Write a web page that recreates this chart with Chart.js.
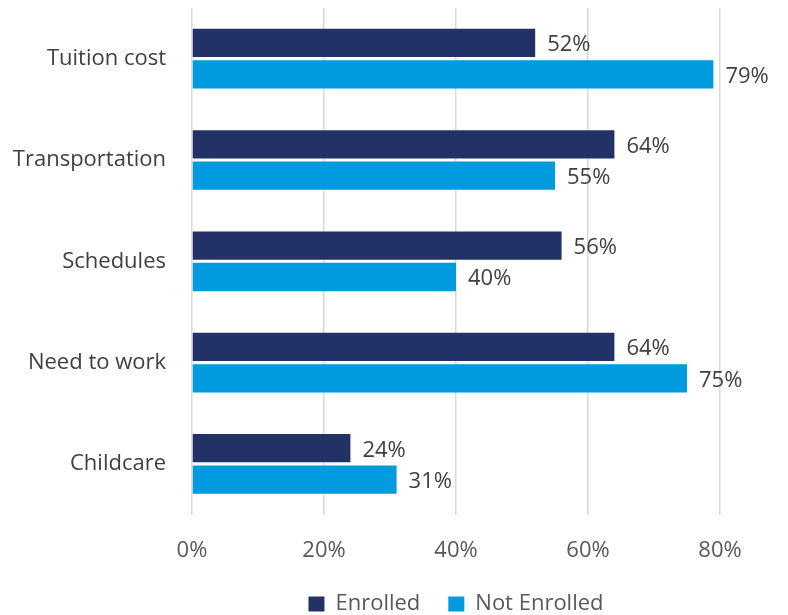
<!DOCTYPE html>
<html>
<head>
<meta charset="utf-8">
<script src="https://cdn.jsdelivr.net/npm/chart.js@4/dist/chart.umd.min.js"></script>
<style>
  html, body { margin:0; padding:0; background:#fff; }
  #wrap { width:788px; height:615px; position:relative; }
</style>
</head>
<body>
<div id="wrap"><canvas id="barChart"></canvas></div>
<script>
const categories  = ['Tuition cost', 'Transportation', 'Schedules', 'Need to work', 'Childcare'];
const enrolled    = [52, 64, 56, 64, 24];
const notEnrolled = [79, 55, 40, 75, 31];
const xTicks      = [0, 20, 40, 60, 80];

const FONT = '"Open Sans", "Noto Sans", sans-serif';

// value labels at the end of each bar
const barLabels = {
  id: 'barLabels',
  afterDatasetsDraw(chart) {
    const ctx = chart.ctx;
    ctx.save();
    ctx.font = `22px ${FONT}`;
    ctx.fillStyle = '#404040';
    ctx.textAlign = 'left';
    ctx.textBaseline = 'middle';
    chart.data.datasets.forEach((ds, i) => {
      chart.getDatasetMeta(i).data.forEach((bar, j) => {
        ctx.fillText(ds.data[j] + '%', bar.x + 12, bar.y + 2);
      });
    });
    ctx.restore();
  }
};

const ctx = document.getElementById('barChart').getContext('2d');
new Chart(ctx, {
  type: 'bar',
  data: {
    labels: categories,
    datasets: [
      { label: 'Enrolled', data: enrolled, backgroundColor: '#223266',
        barPercentage: 0.9, categoryPercentage: 0.62 },
      { label: 'Not Enrolled', data: notEnrolled, backgroundColor: '#009ADE',
        barPercentage: 0.9, categoryPercentage: 0.62 }
    ]
  },
  options: {
    indexAxis: 'y',
    responsive: true,
    maintainAspectRatio: false,
    animation: false,
    layout: { padding: { top: 8, right: 68, left: 0, bottom: -10 } },
    scales: {
      x: {
        min: 0, max: 80,
        afterBuildTicks: axis => { axis.ticks = xTicks.map(v => ({ value: v })); },
        afterFit: axis => { axis.height -= 22; },
        grid: { color: '#d9d9d9', lineWidth: 1.5, drawTicks: false },
        border: { display: false },
        ticks: {
          padding: 23,
          color: '#595959',
          font: { family: FONT, size: 22 },
          callback: v => v + '%'
        }
      },
      y: {
        grid: { display: false },
        border: { display: false },
        afterFit: axis => {
          axis.width = 192;
          axis.paddingTop = 0;
          axis.paddingBottom = 0;
        },
        ticks: {
          padding: 18,
          color: '#404040',
          font: { family: FONT, size: 22 }
        }
      }
    },
    plugins: {
      legend: {
        position: 'bottom',
        fullSize: false,
        labels: {
          boxWidth: 16,
          boxHeight: 15,
          padding: 28,
          color: '#595959',
          font: { family: FONT, size: 22 }
        }
      },
      tooltip: { enabled: false }
    }
  },
  plugins: [barLabels]
});
</script>
</body>
</html>
